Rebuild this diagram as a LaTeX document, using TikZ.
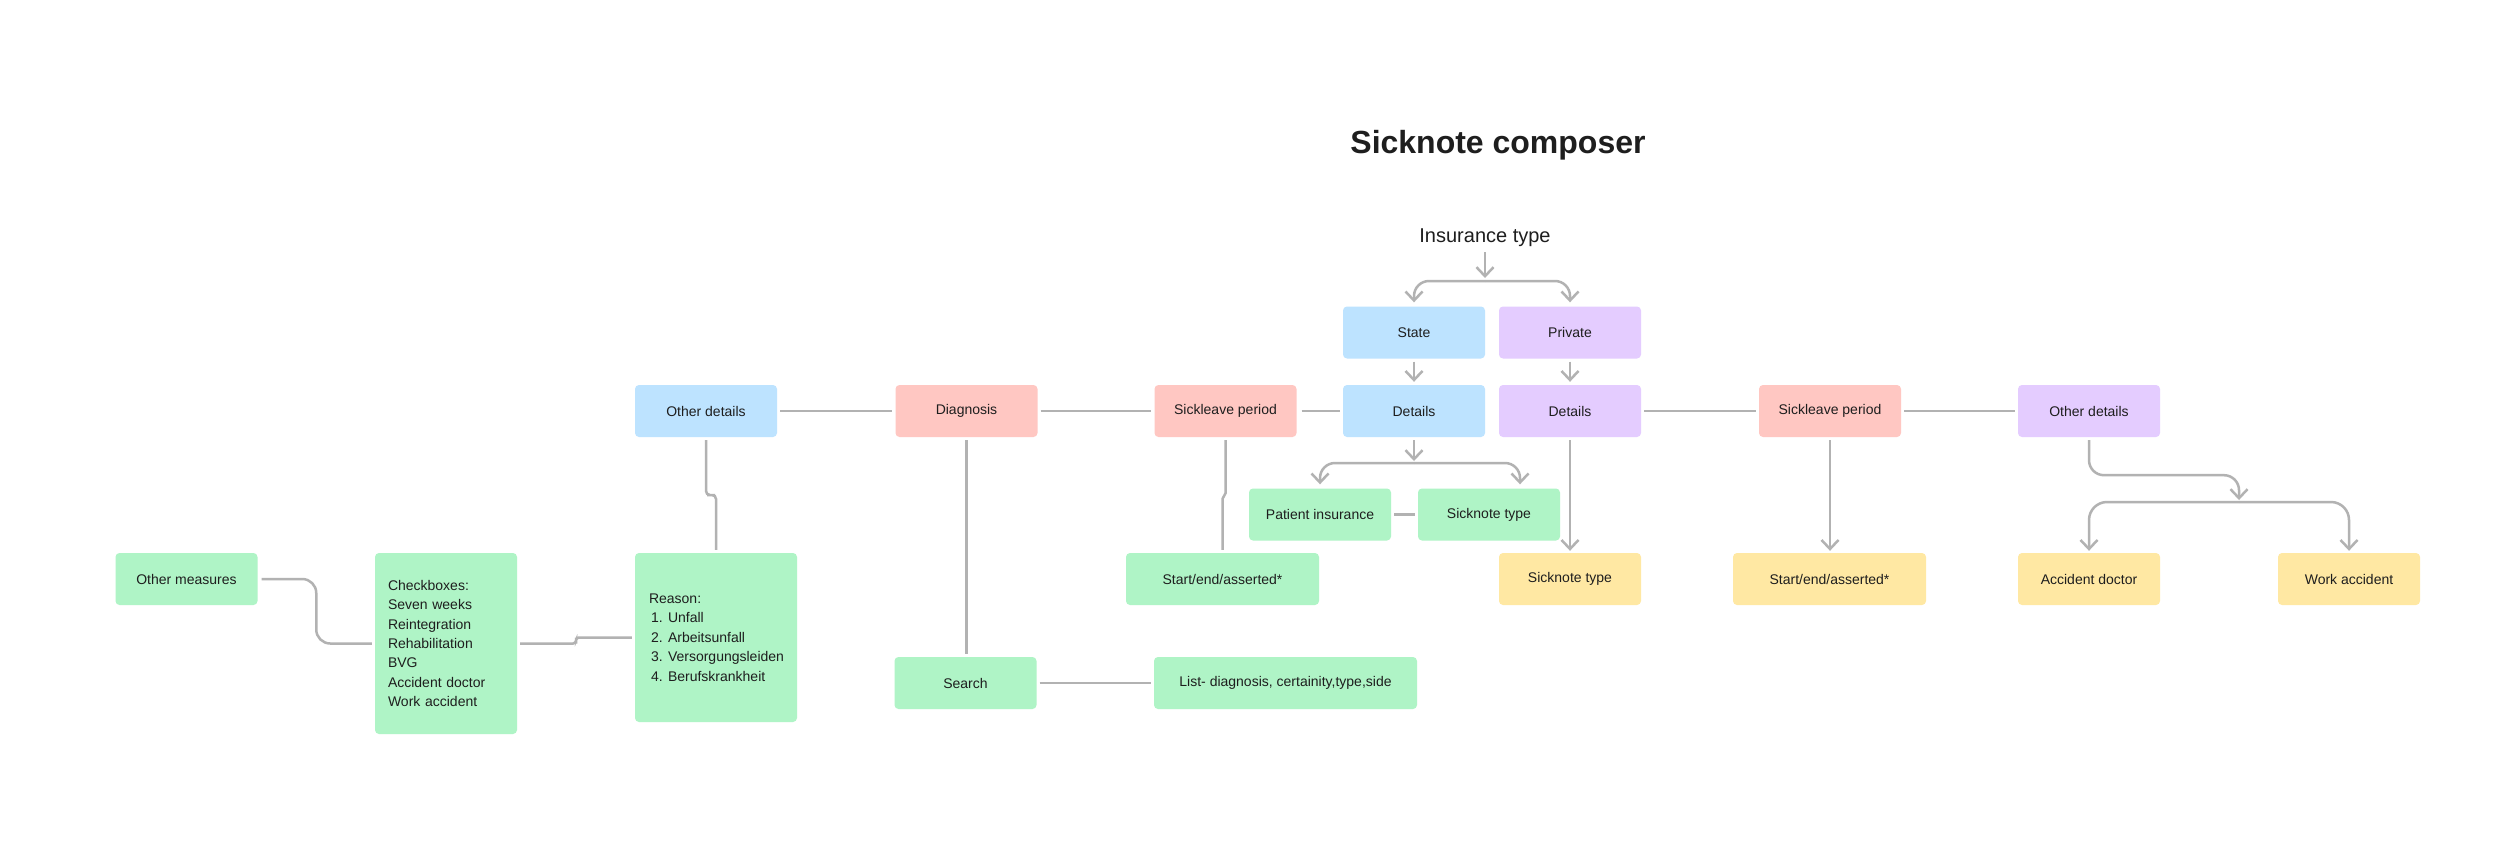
\documentclass[tikz,border=0pt]{standalone}
\usepackage{fontspec}
\setmainfont{Liberation Sans}
\usetikzlibrary{arrows.meta,calc}
\definecolor{cblue}{HTML}{BDE3FF}
\definecolor{cpink}{HTML}{FFC7C2}
\definecolor{cgreen}{HTML}{AFF4C6}
\definecolor{cyellow}{HTML}{FFE8A3}
\definecolor{cpurple}{HTML}{E4CCFF}
\definecolor{cline}{HTML}{B2B2B2}
\definecolor{ctext}{HTML}{1E1E1E}
\begin{document}
\begin{tikzpicture}[x=1pt,y=-1pt,
 box/.style={rounded corners=4pt, minimum width=142pt, minimum height=52pt, inner sep=0pt, text=ctext, font=\fontsize{14}{19.4}\selectfont},
 ln/.style={draw=cline, line width=2.5pt},
 arr/.style={ln, -{Straight Barb[length=9pt,width=17pt]}},
 gap/.style={shorten <=3pt, shorten >=3pt}]
\fill[white] (0,0) rectangle (2500,865);
\useasboundingbox (0,0) rectangle (2500,865);

% titles
\node[font=\fontsize{32}{38}\selectfont\bfseries, text=ctext, anchor=base, inner sep=0pt] (title) at (1498,153) {Sicknote composer};
\node[font=\fontsize{20}{24}\selectfont, text=ctext, anchor=base, inner sep=0pt] (ins) at (1485,242) {Insurance type};

% row of main boxes
\node[box, fill=cblue]   (othL)  at (706,411)    {Other details};
\node[box, fill=cpink]   (diag)  at (966.5,411)  {Diagnosis};
\node[box, fill=cpink]   (sickL) at (1225.5,411) {Sickleave period};
\node[box, fill=cblue]   (detS)  at (1414,411)   {Details};
\node[box, fill=cpurple] (detP)  at (1570,411)   {Details};
\node[box, fill=cpink]   (sickR) at (1830,411)   {Sickleave period};
\node[box, fill=cpurple] (othR)  at (2089,411)   {Other details};

\node[box, fill=cblue]   (state) at (1414,332.5) {State};
\node[box, fill=cpurple] (priv)  at (1570,332.5) {Private};

\node[box, fill=cgreen]  (patins) at (1320,514.5) {Patient insurance};
\node[box, fill=cgreen]  (sntG)   at (1489,514.5) {Sicknote type};

\node[box, fill=cyellow] (sntY)    at (1570,579)   {Sicknote type};
\node[box, fill=cyellow, minimum width=193pt] (seY) at (1829.5,579) {Start/end/asserted*};
\node[box, fill=cyellow] (accdoc)  at (2089,579)   {Accident doctor};
\node[box, fill=cyellow] (workacc) at (2349,579)   {Work accident};

\node[box, fill=cgreen, minimum width=193pt] (seG) at (1222.5,579) {Start/end/asserted*};
\node[box, fill=cgreen]  (search) at (965.5,683) {Search};
\node[box, fill=cgreen, minimum width=263pt] (list) at (1285.5,683) {List- diagnosis, certainity,type,side};

\node[box, fill=cgreen]  (othmeas) at (186.5,579) {Other measures};
\node[box, fill=cgreen, minimum height=181pt, text width=116pt, inner xsep=13pt, align=left] (checks) at (446,643.5)
  {Checkboxes:\\Seven weeks\\Reintegration\\Rehabilitation\\BVG\\Accident doctor\\Work accident};
\node[box, fill=cgreen, minimum height=169pt, text width=134pt, inner xsep=14pt, align=left] (reason) at (716,637.5)
  {Reason:\\
   \hspace*{2pt}\makebox[17pt][l]{1.}Unfall\\
   \hspace*{2pt}\makebox[17pt][l]{2.}Arbeitsunfall\\
   \hspace*{2pt}\makebox[17pt][l]{3.}Versorgungsleiden\\
   \hspace*{2pt}\makebox[17pt][l]{4.}Berufskrankheit};

% plain connectors
\draw[ln, gap] (othL) -- (diag);
\draw[ln, gap] (diag) -- (sickL);
\draw[ln, shorten <=5pt, shorten >=3pt] (sickL) -- (detS);
\draw[ln, gap] (detP) -- (sickR);
\draw[ln, gap] (sickR) -- (othR);
\draw[ln, gap] (patins) -- (sntG);
\draw[ln, gap] (search) -- (list);
\draw[ln, gap] (diag.south) -- (diag.south |- search.north);

\draw[ln, rounded corners=4pt] ($(othL.south)+(0,3)$) |- ($(othL.south)!.5!(reason.north)$) -| ($(reason.north)+(0,-3)$);
\draw[ln] ($(sickL.south)+(0,3)$) -- ($(sickL.south)+(0,56)$) -- ($(seG.north)+(0,-54)$) -- ($(seG.north)+(0,-3)$);
\draw[ln, rounded corners=3pt] ($(checks.east)+(3,0)$) -| ($(checks.east)!.5!(reason.west)$) |- ($(reason.west)+(-3,0)$);
\draw[ln, rounded corners=14pt] ($(othmeas.east)+(4,0)$) -| ($(othmeas.east)!.5!(checks.west)$) |- ($(checks.west)+(-3,0)$);

% arrows
\coordinate (br1) at (1485,281);
\draw[arr] ($(ins.base)+(0,10)$) -- (1485,278);
\draw[arr, rounded corners=15pt] (br1) -| ($(state.north)+(0,-4)$);
\draw[arr, rounded corners=15pt] (br1) -| ($(priv.north)+(0,-4)$);

\draw[arr, gap] (state) -- (detS);
\draw[arr, gap] (priv) -- (detP);

\coordinate (br2) at (1414,463);
\draw[arr] ($(detS.south)+(0,3)$) -- (1414,461);
\draw[arr, rounded corners=15pt] (br2) -| ($(patins.north)+(0,-4)$);
\draw[arr, rounded corners=15pt] (br2) -| ($(sntG.north)+(31,-4)$);

\draw[arr, shorten <=3pt, shorten >=2pt] (detP) -- (sntY);
\draw[arr, shorten <=3pt, shorten >=2pt] (sickR.south) -- (sickR.south |- seY.north);

\coordinate (br3) at (2239,502);
\draw[arr, rounded corners=15pt] ($(othR.south)+(0,3)$) -- ($(othR.south)+(0,38)$) -| (2239,500);
\draw[arr, rounded corners=18pt] (br3) -| ($(accdoc.north)+(0,-2)$);
\draw[arr, rounded corners=18pt] (br3) -| ($(workacc.north)+(0,-2)$);
\end{tikzpicture}
\end{document}
